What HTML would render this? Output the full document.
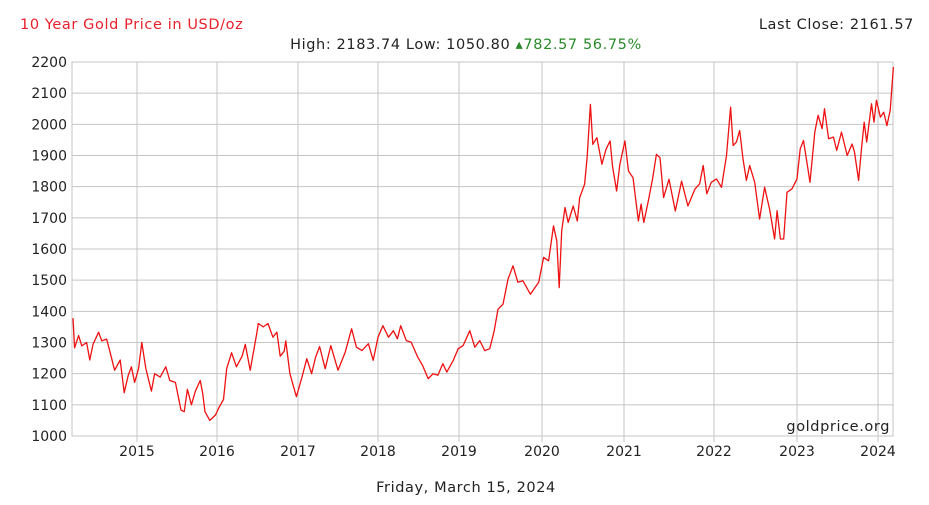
<!DOCTYPE html>
<html><head><meta charset="utf-8"><style>
body{margin:0;background:#fff;}
svg{display:block;font-family:"DejaVu Sans","Liberation Sans",sans-serif;}
.hdr{font-size:14.5px;letter-spacing:0.6px;}
</style></head><body>
<svg width="929" height="505" viewBox="0 0 929 505">
<text class="hdr" x="20" y="29" fill="#e8202a">10 Year Gold Price in USD/oz</text>
<text class="hdr" x="914" y="29" fill="#222" text-anchor="end">Last Close: 2161.57</text>
<text class="hdr" x="466" y="49" fill="#222" text-anchor="middle">High: 2183.74 Low: 1050.80 <tspan fill="#2a8a2a">▴782.57 56.75%</tspan></text>
<g id="grid"></g>
<g id="yaxis"></g>
<g id="xaxis"></g>
<path id="line" fill="none" stroke="#ee1111" stroke-width="1.3" stroke-linejoin="round"/>
<text class="hdr" x="890" y="431" fill="#222" text-anchor="end">goldprice.org</text>
<text class="hdr" x="466" y="492" fill="#222" text-anchor="middle">Friday, March 15, 2024</text>
</svg>
<script>
const yTicks=[1000,1100,1200,1300,1400,1500,1600,1700,1800,1900,2000,2100,2200];
const xYears=[2015,2016,2017,2018,2019,2020,2021,2022,2023,2024];
const dates=[2014.20,2014.22,2014.27,2014.31,2014.37,2014.41,2014.45,2014.52,2014.56,2014.62,2014.66,2014.72,2014.79,2014.84,2014.89,2014.93,2014.97,2015.02,2015.06,2015.11,2015.18,2015.22,2015.29,2015.36,2015.41,2015.48,2015.55,2015.59,2015.63,2015.68,2015.73,2015.79,2015.82,2015.85,2015.91,2015.98,2016.03,2016.08,2016.12,2016.18,2016.24,2016.31,2016.35,2016.41,2016.49,2016.51,2016.57,2016.63,2016.69,2016.74,2016.78,2016.83,2016.85,2016.90,2016.98,
2017.05,2017.11,2017.17,2017.22,2017.27,2017.34,2017.41,2017.50,2017.59,2017.67,2017.73,2017.80,2017.88,2017.94,2018.00,2018.06,2018.13,2018.19,2018.24,2018.28,2018.35,2018.41,2018.49,2018.55,2018.62,2018.68,2018.74,2018.80,2018.85,2018.93,2018.99,2019.05,2019.13,2019.19,2019.25,2019.31,2019.37,2019.42,2019.47,2019.53,2019.59,2019.65,2019.71,2019.77,2019.86,2019.96,
2020.02,2020.08,2020.14,2020.18,2020.21,2020.24,2020.28,2020.32,2020.38,2020.43,2020.46,2020.52,2020.55,2020.59,2020.62,2020.67,2020.73,2020.78,2020.83,2020.86,2020.91,2020.95,2021.01,2021.05,2021.10,2021.16,2021.19,2021.22,2021.27,2021.32,2021.36,2021.40,2021.44,2021.50,2021.57,2021.64,2021.71,2021.79,2021.84,2021.88,2021.92,2021.97,
2022.03,2022.09,2022.15,2022.20,2022.23,2022.27,2022.31,2022.35,2022.39,2022.43,2022.49,2022.55,2022.61,2022.67,2022.73,2022.76,2022.80,2022.84,2022.88,2022.94,2023.00,2023.04,2023.08,2023.16,2023.22,2023.26,2023.31,2023.34,2023.39,2023.45,2023.49,2023.55,2023.62,2023.68,2023.71,2023.76,2023.80,2023.83,2023.86,2023.92,2023.95,2023.98,2024.03,2024.07,2024.11,2024.15,2024.19];
const prices=[1378,1283,1322,1289,1300,1244,1294,1333,1305,1311,1272,1211,1244,1139,1194,1222,1172,1217,1300,1217,1144,1200,1189,1222,1178,1172,1083,1078,1150,1100,1144,1178,1139,1078,1050,1067,1094,1117,1217,1267,1222,1256,1294,1211,1328,1361,1350,1361,1317,1333,1256,1272,1305,1200,1126,
1189,1248,1200,1253,1287,1216,1290,1211,1269,1344,1285,1274,1296,1243,1317,1354,1317,1338,1312,1354,1306,1301,1253,1227,1184,1200,1195,1232,1205,1243,1280,1290,1338,1285,1306,1274,1280,1333,1407,1423,1503,1546,1493,1498,1455,1493,
1573,1562,1674,1626,1476,1658,1733,1685,1738,1690,1765,1808,1893,2064,1936,1957,1872,1920,1947,1866,1786,1872,1947,1850,1829,1690,1744,1685,1754,1829,1904,1893,1765,1824,1722,1818,1738,1793,1809,1868,1777,1814,
1825,1798,1900,2055,1932,1943,1980,1889,1820,1868,1814,1696,1798,1728,1632,1723,1632,1632,1782,1793,1825,1921,1948,1814,1975,2029,1986,2050,1954,1959,1916,1975,1900,1937,1911,1820,1932,2007,1943,2066,2007,2077,2023,2039,1996,2045,2184];
const NS='http://www.w3.org/2000/svg';
const L=72,R=893,T=62,B=436;
const edgeYears=[2014,2015,2016,2017,2018,2019,2020,2021,2022,2023,2024,2025];
const edgeX=[57,137,217,298,378,459,542,624,714,797,878,959];
function xs(d){for(let i=0;i<edgeYears.length-1;i++){if(d<=edgeYears[i+1]){return edgeX[i]+(d-edgeYears[i])*(edgeX[i+1]-edgeX[i]);}}return edgeX[edgeX.length-1];}
function ys(v){return B-(v-1000)/1200*(B-T);}
const grid=document.getElementById('grid'),ya=document.getElementById('yaxis'),xa=document.getElementById('xaxis');
function mk(tag,attrs,parent){const e=document.createElementNS(NS,tag);for(const k in attrs)e.setAttribute(k,attrs[k]);parent.appendChild(e);return e;}
yTicks.forEach(v=>{const y=ys(v);
const ln=mk('line',{x1:L,x2:R,y1:y,y2:y,stroke:'#c4c4c4','stroke-width':1},grid);


const t=mk('text',{x:67,y:y+5,'font-size':14,fill:'#222','text-anchor':'end'},ya);
t.textContent=v;


});
xYears.forEach(yr=>{const x=xs(yr);
const ln=mk('line',{x1:x,x2:x,y1:T,y2:B+6,stroke:'#c4c4c4','stroke-width':1},grid);


const t=mk('text',{x:x,y:456,'font-size':14,fill:'#222','text-anchor':'middle'},xa);
t.textContent=yr;


});
const fr=mk('rect',{x:L,y:T,width:R-L,height:B-T,fill:'none',stroke:'#c4c4c4','stroke-width':1},grid);


let d='';dates.forEach((dt,i)=>{d+=(i?'L':'M')+xs(dt).toFixed(1)+' '+ys(prices[i]).toFixed(1);});
document.getElementById('line').setAttribute('d',d);
</script>
</body></html>
